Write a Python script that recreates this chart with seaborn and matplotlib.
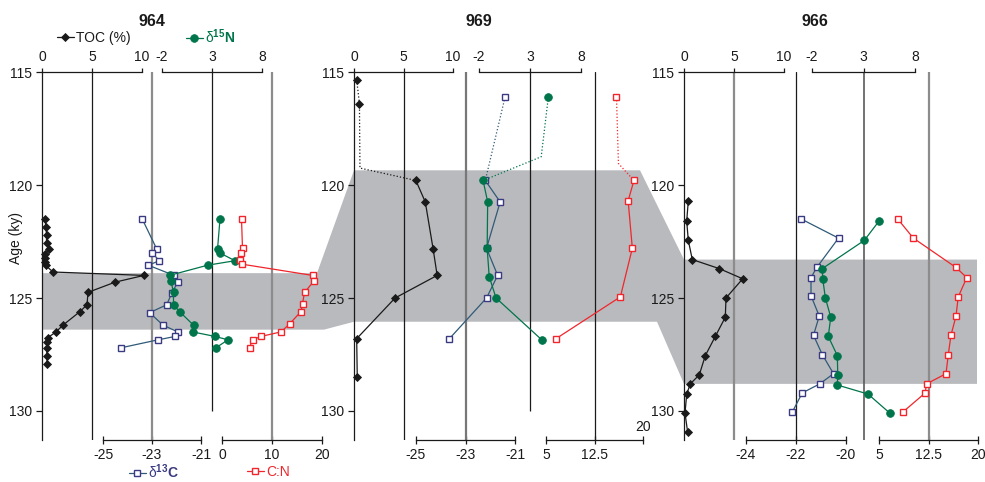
import matplotlib
matplotlib.use("Agg")
import matplotlib.pyplot as plt
from matplotlib.lines import Line2D
from matplotlib.patches import Polygon
import seaborn as sns

# ---- values (age in ky) ----
# core 964
toc_964_age = [121.5, 121.85, 122.2, 122.55, 122.85, 123.05, 123.25, 123.4, 123.55, 123.85, 124.0,
               124.3, 124.75, 125.3, 125.6, 126.2, 126.5, 126.75, 126.95, 127.2, 127.55, 127.9]
toc_964 = [0.3, 0.4, 0.45, 0.45, 0.7, 0.3, 0.3, 0.3, 0.35, 1.1, 10.2,
           7.3, 4.6, 4.5, 3.8, 2.1, 1.4, 0.6, 0.5, 0.45, 0.5, 0.5]
c13_964_age = [121.5, 122.85, 123.0, 123.35, 123.55, 124.0, 124.3, 124.8, 125.3, 125.65,
               126.2, 126.5, 126.7, 126.85, 127.2]
c13_964 = [-23.4, -22.8, -23.0, -22.7, -23.15, -22.1, -21.95, -22.2, -22.4, -23.1,
           -22.55, -21.95, -22.05, -22.75, -24.25]
n15_964_age = [121.5, 122.85, 123.0, 123.35, 123.55, 124.0, 124.25, 124.75, 125.3, 125.6,
               126.2, 126.5, 126.7, 126.85, 127.2]
n15_964 = [3.8, 3.55, 3.75, 5.3, 2.55, -1.25, -1.1, -0.85, -0.85, -0.25,
           1.15, 1.05, 3.3, 4.6, 3.4]
cn_964_age = [121.5, 122.8, 123.0, 123.3, 123.5, 124.0, 124.25, 124.75, 125.25, 125.6,
              126.15, 126.5, 126.7, 126.85, 127.2]
cn_964 = [3.9, 4.1, 3.8, 3.5, 3.9, 18.1, 18.4, 16.5, 16.1, 15.8,
          13.5, 11.8, 7.8, 6.1, 5.5]

# core 969 (points above the grey band are joined by a dotted line through a bend)
toc_969_age = [115.35, 116.4, 119.8, 120.75, 122.85, 124.0, 125.0, 126.8, 128.5]
toc_969 = [0.27, 0.55, 6.25, 7.2, 8.0, 8.4, 4.15, 0.27, 0.33]
toc_969_bend = (0.6, 119.25)
c13_969_age = [116.1, 119.8, 120.75, 122.8, 124.0, 125.0, 126.8]
c13_969 = [-21.4, -22.2, -21.6, -22.15, -21.7, -22.15, -23.65]
c13_969_bend = None
n15_969_age = [116.1, 119.8, 120.75, 122.8, 124.05, 125.0, 126.85]
n15_969 = [4.8, -1.6, -1.15, -1.2, -1.0, -0.33, 4.15]
n15_969_bend = (4.1, 118.75)
cn_969_age = [116.1, 119.8, 120.7, 122.8, 124.95, 126.8]
cn_969 = [15.9, 18.6, 17.7, 18.35, 16.5, 6.55]
cn_969_bend = (16.2, 119.05)

# core 966
toc_966_age = [120.7, 121.6, 122.45, 123.3, 123.7, 124.15, 125.0, 125.85, 126.7, 127.55,
               128.4, 128.8, 129.25, 130.1, 130.95]
toc_966 = [0.43, 0.27, 0.43, 0.83, 3.53, 5.87, 4.2, 4.13, 3.13, 2.13,
           1.53, 0.63, 0.27, 0.1, 0.37]
c13_966_age = [121.5, 122.35, 123.65, 124.1, 124.9, 125.8, 126.65, 127.5, 128.35, 128.8, 129.2, 130.05]
c13_966 = [-21.8, -20.3, -21.17, -21.4, -21.4, -21.07, -21.3, -20.95, -20.5, -21.05, -21.75, -22.15]
n15_966_age = [121.6, 122.45, 123.7, 124.15, 125.0, 125.85, 126.7, 127.55, 128.4, 128.85, 129.25, 130.1]
n15_966 = [4.5, 3.08, -1.0, -0.96, -0.7, -0.18, -0.42, 0.46, 0.5, 0.46, 3.44, 5.57]
cn_966_age = [121.5, 122.35, 123.65, 124.1, 124.95, 125.8, 126.65, 127.5, 128.35, 128.8, 129.2, 130.05]
cn_966 = [7.83, 10.2, 16.67, 18.3, 17.0, 16.67, 15.9, 15.5, 15.15, 12.2, 12.0, 8.6]

# grey (sapropel) band: top / bottom age per core
band_top = [123.9, 119.35, 123.3]
band_bottom = [126.4, 126.05, 128.8]

cores = ['964', '969', '966']

# ---- style ----
sns.set_style("white")
plt.rcParams['font.family'] = ['Liberation Sans', 'DejaVu Sans']
plt.rcParams['mathtext.fontset'] = 'custom'
plt.rcParams['mathtext.rm'] = 'Liberation Sans'
plt.rcParams['mathtext.bf'] = 'Liberation Sans:bold'
plt.rcParams['mathtext.it'] = 'Liberation Sans:italic'
plt.rcParams['axes.unicode_minus'] = False

BLACK = '#1a1a1a'
GRAY = '#8c8c8c'
DGRAY = '#5a5a5a'
TOC_C = '#1a1a1a'
N15_C = '#00744a'
C13_LINE = '#2f5a78'
C13_EDGE = '#3a3a82'
CN_C = '#f0262c'
BAND_C = '#b9babd'
FS = 10

W, H = 985, 482
Y_TOP, Y_BOT = 72, 440
AGE_TOP = 115
PX_KY = 22.6
AGE_BOT = AGE_TOP + (Y_BOT - Y_TOP) / PX_KY

fig = plt.figure(figsize=(W / 100, H / 100), dpi=100)


def add_ax(x0, x1):
    ax = fig.add_axes([x0 / W, 1 - Y_BOT / H, (x1 - x0) / W, (Y_BOT - Y_TOP) / H])
    ax.set_facecolor('none')
    for s in ax.spines.values():
        s.set_visible(False)
        s.set_color(BLACK)
        s.set_linewidth(0.9)
    return ax


# background axes holding the grey band (x in layout pixels, y in age)
bg = add_ax(0, W)
bg.set_xlim(0, W)
bg.set_ylim(AGE_BOT, AGE_TOP)
bg.set_xticks([])
bg.set_yticks([])
# horizontal extent of the band in each panel and the slanted joins between panels
band_x = [(42, 317, 324), (354, 640, 657), (684, 977, 977)]
verts = [(band_x[0][0], band_top[0]), (band_x[0][1], band_top[0]),
         (band_x[1][0], band_top[1]), (band_x[1][1], band_top[1]),
         (band_x[2][0], band_top[2]), (band_x[2][1], band_top[2]),
         (band_x[2][2], band_bottom[2]), (band_x[2][0], band_bottom[2]),
         (band_x[1][2], band_bottom[1]), (band_x[1][0], band_bottom[1]),
         (band_x[0][2], band_bottom[0]), (band_x[0][0], band_bottom[0])]
bg.add_patch(Polygon(verts, closed=True, facecolor=BAND_C, edgecolor='none'))

# panel layout (pixel positions of each scale)
layout = [
    dict(toc=(42, 142), n15=(162, 262), c13=(103, 201), cn=(222, 322), title_x=152,
         c13_lim=(-25, -21), c13_ticks=[-25, -23, -21], c13_ref=-23,
         cn_lim=(0, 20), cn_ticks=[0, 10, 20], cn_ref=10,
         toc_ref_c=BLACK, c13_ref_c=GRAY, n15_ref_c=BLACK, n15_full=False, cn_ref_c=GRAY),
    dict(toc=(354, 453), n15=(479, 581), c13=(416, 515), cn=(546, 643), title_x=479,
         c13_lim=(-25, -21), c13_ticks=[-25, -23, -21], c13_ref=-23,
         cn_lim=(5, 20), cn_ticks=[5, 12.5, 20], cn_ref=12.5,
         toc_ref_c=BLACK, c13_ref_c='#777777', n15_ref_c=BLACK, n15_full=False, cn_ref_c=BLACK),
    dict(toc=(684, 784), n15=(812, 915), c13=(746, 846), cn=(879, 978), title_x=815,
         c13_lim=(-24, -20), c13_ticks=[-24, -22, -20], c13_ref=-22,
         cn_lim=(5, 20), cn_ticks=[5, 12.5, 20], cn_ref=12.5,
         toc_ref_c=GRAY, c13_ref_c=BLACK, n15_ref_c=DGRAY, n15_full=True, cn_ref_c=GRAY),
]

series = [
    dict(toc=(toc_964, toc_964_age), c13=(c13_964, c13_964_age), n15=(n15_964, n15_964_age), cn=(cn_964, cn_964_age)),
    dict(toc=(toc_969, toc_969_age), c13=(c13_969, c13_969_age), n15=(n15_969, n15_969_age), cn=(cn_969, cn_969_age),
         bends=dict(toc=toc_969_bend, c13=c13_969_bend, n15=n15_969_bend, cn=cn_969_bend)),
    dict(toc=(toc_966, toc_966_age), c13=(c13_966, c13_966_age), n15=(n15_966, n15_966_age), cn=(cn_966, cn_966_age)),
]

styles = dict(
    toc=dict(color=TOC_C, marker='D', markersize=4.4, markerfacecolor=TOC_C, markeredgecolor=TOC_C, markeredgewidth=0.6),
    n15=dict(color=N15_C, marker='o', markersize=5.5, markerfacecolor=N15_C, markeredgecolor=N15_C, markeredgewidth=0.6),
    c13=dict(color=C13_LINE, marker='s', markersize=4.2, markerfacecolor='white', markeredgecolor=C13_EDGE, markeredgewidth=1.0),
    cn=dict(color=CN_C, marker='s', markersize=4.2, markerfacecolor='white', markeredgecolor=CN_C, markeredgewidth=1.0),
)


def draw(ax, key, vals, ages, top_age=None, bend=None):
    st = styles[key]
    if top_age is None:
        sns.lineplot(x=vals, y=ages, ax=ax, orient='y', sort=False, estimator=None,
                     linewidth=0.9, clip_on=False, zorder=3, **st)
        return
    pre = [(v, a) for v, a in zip(vals, ages) if a < top_age]
    post = [(v, a) for v, a in zip(vals, ages) if a >= top_age]
    path = pre + ([bend] if bend is not None else []) + post[:1]
    sns.lineplot(x=[p[0] for p in path], y=[p[1] for p in path], ax=ax, orient='y', sort=False,
                 estimator=None, color=st['color'], linewidth=0.9, linestyle=':', clip_on=False, zorder=3)
    sns.lineplot(x=[p[0] for p in post], y=[p[1] for p in post], ax=ax, orient='y', sort=False,
                 estimator=None, linewidth=0.9, clip_on=False, zorder=3, **st)
    ax.plot([p[0] for p in pre], [p[1] for p in pre], linestyle='none', clip_on=False, zorder=4,
            **{k: v for k, v in st.items() if k != 'color'})


for i, (lay, ser) in enumerate(zip(layout, series)):
    bends = ser.get('bends')
    top_age = band_top[i] if bends else None

    def bend_of(key):
        return bends[key] if bends else None

    # TOC + age axis
    ax = add_ax(*lay['toc'])
    draw(ax, 'toc', *ser['toc'], top_age, bend_of('toc'))
    ax.set_xlim(0, 10)
    ax.set_ylim(AGE_BOT, AGE_TOP)
    ax.spines['left'].set_visible(True)
    ax.spines['top'].set_visible(True)
    ax.set_yticks([115, 120, 125, 130])
    ax.set_xticks([0, 5, 10])
    ax.xaxis.set_ticks_position('top')
    ax.tick_params(axis='x', top=True, labeltop=True, bottom=False, labelbottom=False,
                   direction='out', length=3, width=0.9, pad=3, labelsize=FS, colors=BLACK)
    ax.tick_params(axis='y', left=True, labelleft=True, direction='out', length=4, width=0.9,
                   pad=3, labelsize=FS, colors=BLACK)
    ax.axvline(5, color=lay['toc_ref_c'], lw=1.6 if lay['toc_ref_c'] == GRAY else 0.9, zorder=1)
    ax.set_xlabel('')
    ax.set_ylabel('')
    if i == 0:
        ax.set_ylabel('Age (ky)', fontsize=FS, color=BLACK)
        ax.yaxis.set_label_coords(-0.19, 0.55)

    # d13C, bottom scale
    ax = add_ax(*lay['c13'])
    draw(ax, 'c13', *ser['c13'], top_age, bend_of('c13'))
    ax.set_xlim(*lay['c13_lim'])
    ax.set_ylim(AGE_BOT, AGE_TOP)
    ax.spines['bottom'].set_visible(True)
    ax.set_xticks(lay['c13_ticks'])
    ax.set_yticks([])
    ax.tick_params(axis='x', bottom=True, direction='inout', length=6, width=0.9, pad=3,
                   labelsize=FS, colors=BLACK)
    ax.axvline(lay['c13_ref'], color=lay['c13_ref_c'], lw=0.9 if lay['c13_ref_c'] == BLACK else 1.6, zorder=1)
    ax.set_xlabel('')
    ax.set_ylabel('')

    # d15N, top scale
    ax = add_ax(*lay['n15'])
    draw(ax, 'n15', *ser['n15'], top_age, bend_of('n15'))
    ax.set_xlim(-2, 8)
    ax.set_ylim(AGE_BOT, AGE_TOP)
    ax.spines['top'].set_visible(True)
    ax.set_xticks([-2, 3, 8])
    ax.set_yticks([])
    ax.xaxis.set_ticks_position('top')
    ax.tick_params(axis='x', top=True, labeltop=True, bottom=False, labelbottom=False,
                   direction='out', length=3, width=0.9, pad=3, labelsize=FS, colors=BLACK)
    if lay['n15_full']:
        ax.axvline(3, color=lay['n15_ref_c'], lw=1.2, zorder=1)
    else:
        ax.vlines(3, AGE_TOP, 130, color=lay['n15_ref_c'], lw=0.9, zorder=1)
    ax.set_xlabel('')
    ax.set_ylabel('')

    # C:N, bottom scale
    ax = add_ax(*lay['cn'])
    draw(ax, 'cn', *ser['cn'], top_age, bend_of('cn'))
    ax.set_xlim(*lay['cn_lim'])
    ax.set_ylim(AGE_BOT, AGE_TOP)
    ax.spines['bottom'].set_visible(True)
    labels = [f'{t:g}' for t in lay['cn_ticks']]
    ax.set_xticks(lay['cn_ticks'])
    ax.set_yticks([])
    ax.tick_params(axis='x', bottom=True, direction='inout', length=6, width=0.9, pad=3,
                   labelsize=FS, colors=BLACK)
    ax.axvline(lay['cn_ref'], color=lay['cn_ref_c'], lw=0.9 if lay['cn_ref_c'] == BLACK else 1.6, zorder=1)
    if i == 1:
        # last label of this scale sits higher in the original
        ax.text(lay['cn_lim'][1], AGE_TOP + (427 - Y_TOP) / PX_KY, labels[-1], ha='center', va='center',
                fontsize=FS, color=BLACK)
        labels[-1] = ''
    ax.set_xticklabels(labels)
    ax.set_xlabel('')
    ax.set_ylabel('')

    fig.text(lay['title_x'] / W, 1 - 21 / H, cores[i], ha='center', va='center',
             fontsize=11.5, fontweight='bold', color=BLACK)


# legends
def leg(key, label, color, x, y):
    st = styles[key]
    h = Line2D([], [], linewidth=0.9, **st)
    fig.legend(handles=[h], labels=[label], loc='center left', bbox_to_anchor=(x / W, 1 - y / H),
               frameon=False, handlelength=1.2, handletextpad=0.2, borderpad=0, borderaxespad=0,
               fontsize=FS, labelcolor=color, numpoints=1)


leg('toc', 'TOC (%)', BLACK, 57, 38)
leg('n15', r'δ$^{\mathbf{15}}\mathbf{N}$', N15_C, 186, 37)
leg('c13', r'δ$^{\mathbf{13}}\mathbf{C}$', C13_EDGE, 129, 472)
leg('cn', 'C:N', CN_C, 247, 472)

fig.savefig('out.png', dpi=100)
